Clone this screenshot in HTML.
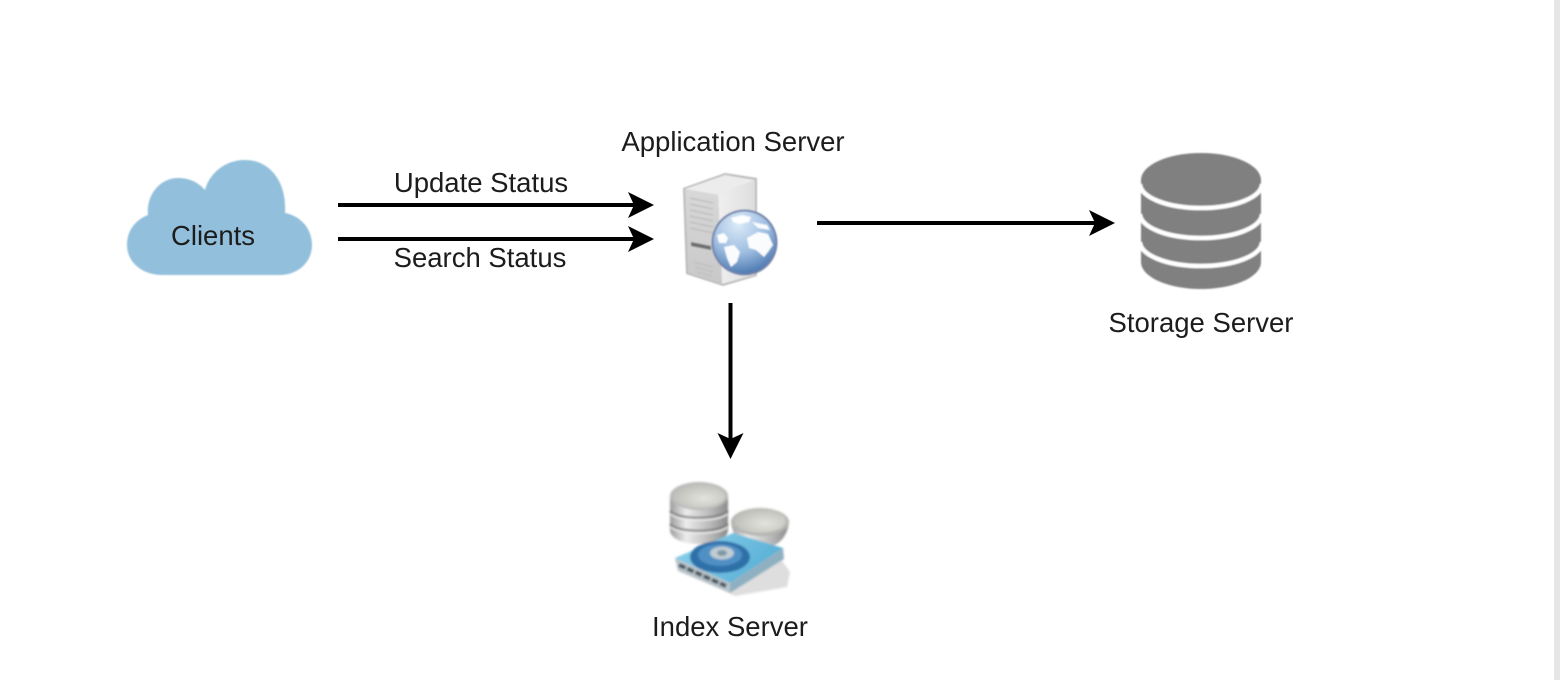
<!DOCTYPE html>
<html>
<head>
<meta charset="utf-8">
<style>
html,body{margin:0;padding:0;background:#fff;width:1560px;height:680px;overflow:hidden}
svg{display:block}
text{font-family:"Liberation Sans",sans-serif;font-size:27.5px;fill:#1c1c1c;text-anchor:middle}
</style>
</head>
<body>
<svg width="1560" height="680" viewBox="0 0 1560 680" xmlns="http://www.w3.org/2000/svg">
<defs>
<filter id="b" x="-10%" y="-10%" width="120%" height="120%"><feGaussianBlur stdDeviation="0.7"/></filter>
<filter id="b2" x="-10%" y="-10%" width="120%" height="120%"><feGaussianBlur stdDeviation="1"/></filter>
<filter id="t" x="-5%" y="-20%" width="110%" height="140%"><feGaussianBlur stdDeviation="0.35"/></filter>
<linearGradient id="front" x1="0" y1="0" x2="0" y2="1"><stop offset="0" stop-color="#d8d8d8"/><stop offset="1" stop-color="#c8c8c8"/></linearGradient>
<linearGradient id="side" x1="0" y1="0" x2="1" y2="0"><stop offset="0" stop-color="#efefef"/><stop offset="1" stop-color="#dedede"/></linearGradient>
<radialGradient id="globe" cx="0.4" cy="0.2" r="0.95"><stop offset="0" stop-color="#dcebf8"/><stop offset="0.5" stop-color="#9dbde0"/><stop offset="1" stop-color="#2f609f"/></radialGradient>
<linearGradient id="cyl" x1="0" y1="0" x2="1" y2="0"><stop offset="0" stop-color="#9c9c9c"/><stop offset="0.28" stop-color="#ececec"/><stop offset="0.7" stop-color="#b8b8b8"/><stop offset="1" stop-color="#8a8a8a"/></linearGradient>
<linearGradient id="disk" x1="0" y1="0" x2="1" y2="0.4"><stop offset="0" stop-color="#8ed2ec"/><stop offset="1" stop-color="#59b0d6"/></linearGradient>
<radialGradient id="rim" cx="0.6" cy="0.6" r="0.7"><stop offset="0" stop-color="#e4e4de"/><stop offset="1" stop-color="#b9b9b4"/></radialGradient>
</defs>

<rect x="1554" y="0" width="6" height="680" fill="#e6e6e6"/>

<!-- Clients cloud -->
<path filter="url(#b)" fill="#92bfdb" d="M162 275 C142 275 127 262 127 245 C127 231 135 220 148 215 C146 195 160 178 178 178 C190 178 199 183 205 190 C210 172 226 160 245 160 C270 160 287 182 285 213 C301 216 312 229 312 245 C312 262 298 275 280 275 Z"/>
<text x="213" y="245" filter="url(#t)">Clients</text>

<!-- Connectors -->
<g filter="url(#t)">
<path d="M338 205H636M338 239H636M817 223H1098M730.500 303V442" stroke="#000" stroke-width="4" fill="none"/>
<path d="M654 205L628 192L634 205L628 218Z"/>
<path d="M654 239L628 226L634 239L628 252Z"/>
<path d="M1115 223L1089 210L1095 223L1089 236Z"/>
<path d="M730.500 459L717.500 433L730.500 439L743.500 433Z"/>
</g>
<text x="481" y="192" filter="url(#t)">Update Status</text>
<text x="480" y="267" filter="url(#t)">Search Status</text>
<text x="733" y="151" filter="url(#t)">Application Server</text>
<text x="1201" y="332" filter="url(#t)">Storage Server</text>
<text x="730" y="636" filter="url(#t)">Index Server</text>

<!-- Application server icon -->
<g filter="url(#b)">
<path d="M683 188L725 173L757 178L757 276L723 286L686 274Z" fill="#bcbcbc"/>
<path d="M685 189L725 175L755 180L718 195Z" fill="#ececec"/>
<path d="M718 195L755 180L755 275L722 284Z" fill="url(#side)"/>
<path d="M685 189L718 195L722 284L688 273Z" fill="url(#front)"/>
<g stroke="#c0c0c0" stroke-width="1.500">
<path d="M690 198L713 203M690 204L713 209M690 210L713 215M690 216L713 221M690 222L713 227M690 228L713 233M693 262L713 267M695 267L713 272M697 272L712 276"/>
</g>
<path d="M691 242L711 246L711 250L691 246Z" fill="#707070"/>
<circle cx="744.500" cy="242.500" r="33" fill="#7484ab"/>
<circle cx="744.500" cy="242.500" r="31" fill="url(#globe)"/>
<path fill="#fff" opacity="0.95" d="M731 218L742 215L751 217L749 222L739 224L733 222ZM752 222L767 225L770 230L758 228ZM717 235L724 233L728 238L726 243L719 243ZM747 238L758 232L768 234L773 245L768 252L764 257L756 250L749 248ZM724 247L734 245L740 252L737 262L731 267L727 258Z"/>
</g>

<!-- Storage server -->
<g filter="url(#b)">
<path d="M1141 180V262C1141 277 1168 289 1201 289C1234 289 1261 277 1261 262V180Z" fill="#808080"/>
<ellipse cx="1201" cy="180" rx="60" ry="27" fill="#808080"/>
<path d="M1140 184A61 24 0 0 0 1262 184" fill="none" stroke="#fff" stroke-width="4.500"/>
<path d="M1140 214A61 24 0 0 0 1262 214" fill="none" stroke="#fff" stroke-width="4.500"/>
<path d="M1140 242A61 24 0 0 0 1262 242" fill="none" stroke="#fff" stroke-width="4.500"/>
</g>

<!-- Index server icon -->
<g filter="url(#b2)">
<path d="M690 575L778 555L790 572L787 587L735 596Z" fill="#dedede"/>
<path d="M670 496V530C670 538 682 544 699 544C716 544 728 538 728 530V496Z" fill="url(#cyl)"/>
<path d="M670 511C676 520 722 520 728 511M670 524C676 533 722 533 728 524" stroke="#6f6f6f" stroke-width="1.800" fill="none"/>
<path d="M671 514C678 522 720 522 727 514M671 527C678 535 720 535 727 527" stroke="#f2f2f2" stroke-width="1.500" fill="none"/>
<ellipse cx="699" cy="496" rx="29" ry="14" fill="#b9b9b9"/>
<ellipse cx="699" cy="496" rx="26" ry="12" fill="url(#rim)"/>
<path d="M731 522C733 538 742 548 760 548C778 548 787 538 789 522Z" fill="url(#cyl)"/>
<ellipse cx="760" cy="522" rx="29" ry="14" fill="#b4b4b0"/>
<ellipse cx="760" cy="521" rx="26" ry="12" fill="url(#rim)"/>
<path d="M675 558L733 533L783 548L730 583Z" fill="url(#disk)"/>
<path d="M675 558L730 583L730 593L678 571Z" fill="#b9c5cb"/>
<path d="M730 583L783 548L784 559L730 593Z" fill="#8fb0c1"/>
<path d="M679 565L726 586" stroke="#46545c" stroke-width="4" stroke-dasharray="7 2"/>
<ellipse cx="720" cy="557" rx="30" ry="16" fill="#2f6fa8"/>
<ellipse cx="720" cy="555" rx="22" ry="11" fill="#4f90c4"/>
<ellipse cx="722" cy="553" rx="12" ry="6.500" fill="#c1ccd2"/>
<ellipse cx="722" cy="553" rx="5" ry="3" fill="#7f98a6"/>
</g>
</svg>
</body>
</html>
